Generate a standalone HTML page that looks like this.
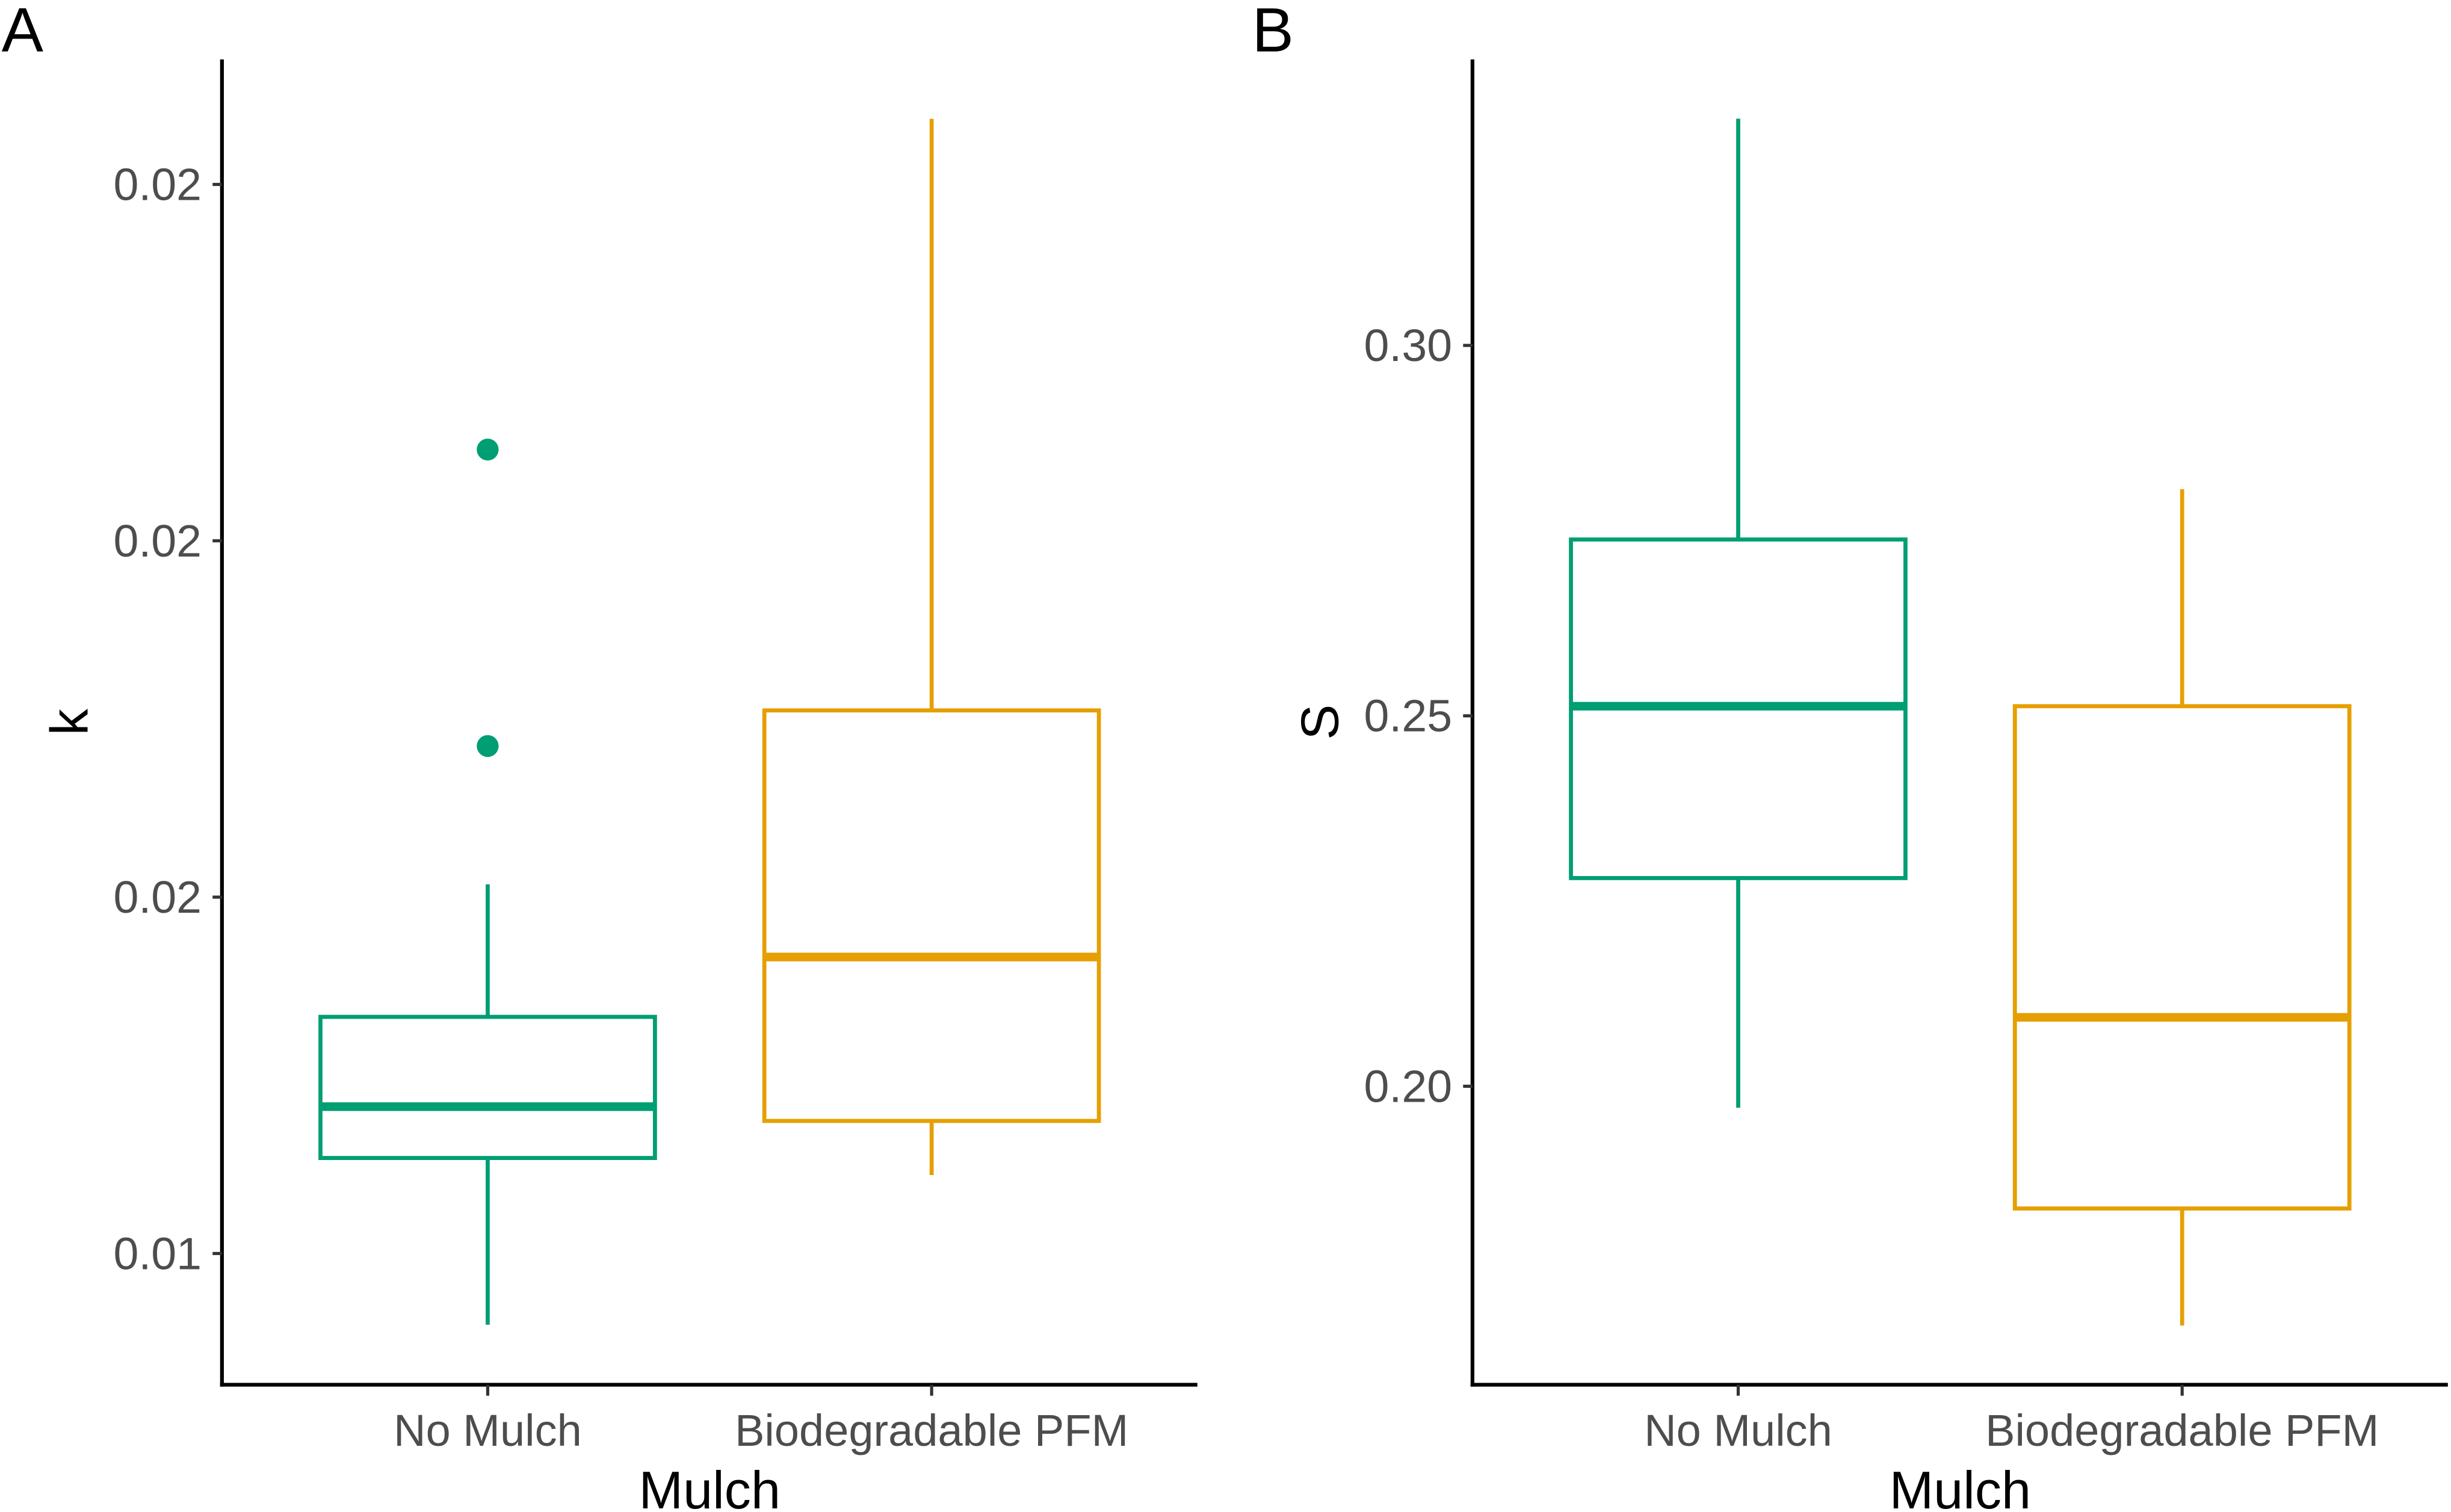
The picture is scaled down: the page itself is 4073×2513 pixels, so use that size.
<!DOCTYPE html>
<html><head><meta charset="utf-8"><style>
html,body{margin:0;padding:0;background:#fff;}
svg{display:block;}
text{font-family:"Liberation Sans",Arial,sans-serif;}
</style></head><body>
<svg id="chart" width="4073" height="2513" viewBox="0 0 1568 967.4" preserveAspectRatio="none" xmlns="http://www.w3.org/2000/svg">
<text x="1" y="33" font-size="40" fill="#000">A</text>
<text x="801" y="33" font-size="40" fill="#000">B</text>
<g id="gA"></g>
<g id="gB"></g>
</svg>
<script>
const categories = ["No Mulch", "Biodegradable PFM"];
const colors = ["#009E73", "#E69F00"];
// panel A (k): [low whisker, q1, median, q3, high whisker]
const statsA_noMulch = [0.00950, 0.01067, 0.01103, 0.01166, 0.01259];
const statsA_pfm = [0.01055, 0.01093, 0.01208, 0.01381, 0.01796];
const outliersA_noMulch = [0.01356, 0.01564];
const outliersA_pfm = [];
const ticksA = [0.01, 0.0125, 0.015, 0.0175];
const tickLabelsA = ["0.01", "0.02", "0.02", "0.02"];
// panel B (S)
const statsB_noMulch = [0.1971, 0.2281, 0.2513, 0.2738, 0.3306];
const statsB_pfm = [0.1677, 0.1835, 0.2093, 0.2513, 0.2806];
const outliersB_noMulch = [];
const outliersB_pfm = [];
const ticksB = [0.20, 0.25, 0.30];
const tickLabelsB = ["0.20", "0.25", "0.30"];

const NS = "http://www.w3.org/2000/svg";
function mk(parent, tag, attrs, name) {
  const el = document.createElementNS(NS, tag);
  for (const k in attrs) el.setAttribute(k, attrs[k]);
  
  
  parent.appendChild(el);
  return el;
}

function panel(g, ax, yscale, stats, outs, ticks, tickLabels, ytitle) {
  const left = ax, right = ax + 624, top = 38, bottom = 886;
  const xPos = i => ax + 170 + i * 284;
  mk(g, 'line', {x1: left, y1: top, x2: left, y2: bottom + 1.2, stroke: '#000', 'stroke-width': 2.4}, 'y-axis-line');
  mk(g, 'line', {x1: left - 1.2, y1: bottom, x2: right, y2: bottom, stroke: '#000', 'stroke-width': 2.4}, 'x-axis-line');
  ticks.forEach((t, i) => {
    const y = yscale(t);
    mk(g, 'line', {x1: left - 6, y1: y, x2: left, y2: y, stroke: '#333', 'stroke-width': 2}, 'y-tick');
    const tx = mk(g, 'text', {x: left - 13, y: y + 10, 'font-size': 29, fill: '#4d4d4d', 'text-anchor': 'end'}, 'y-tick-label');
    tx.textContent = tickLabels[i];
  });
  categories.forEach((c, i) => {
    const x = xPos(i);
    mk(g, 'line', {x1: x, y1: bottom, x2: x, y2: bottom + 7, stroke: '#333', 'stroke-width': 2}, 'x-tick');
    const tx = mk(g, 'text', {x: x, y: bottom + 39, 'font-size': 28.5, fill: '#4d4d4d', 'text-anchor': 'middle'}, 'x-tick-label');
    tx.textContent = c;
    const s = stats[i], col = colors[i];
    const hw = 107;
    mk(g, 'line', {x1: x, y1: yscale(s[0]), x2: x, y2: yscale(s[1]), stroke: col, 'stroke-width': 2.6}, 'lower-whisker');
    mk(g, 'line', {x1: x, y1: yscale(s[3]), x2: x, y2: yscale(s[4]), stroke: col, 'stroke-width': 2.6}, 'upper-whisker');
    mk(g, 'rect', {x: x - hw, y: yscale(s[3]), width: 2 * hw, height: yscale(s[1]) - yscale(s[3]), fill: 'none', stroke: col, 'stroke-width': 2.6}, 'box');
    mk(g, 'line', {x1: x - hw, y1: yscale(s[2]), x2: x + hw, y2: yscale(s[2]), stroke: col, 'stroke-width': 5.5}, 'median-line');
    outs[i].forEach(o => {
      mk(g, 'circle', {cx: x, cy: yscale(o), r: 7, fill: col}, 'outlier-point');
    });
  });
  const t = mk(g, 'text', {x: (left + right) / 2, y: 965, 'font-size': 34, fill: '#000', 'text-anchor': 'middle'}, 'x-axis-title');
  t.textContent = 'Mulch';
  const yx = ax - 86, yy = 462;
  const yt = mk(g, 'text', {x: yx, y: yy, 'font-size': 34, fill: '#000', 'text-anchor': 'middle', transform: 'rotate(-90 ' + yx + ' ' + yy + ')'}, 'y-axis-title');
  yt.textContent = ytitle;
}

const yA = v => 802 - (v - 0.01) / 0.0025 * 228;
const yB = v => 695 - (v - 0.20) / 0.05 * 237;
panel(document.getElementById('gA'), 142, yA, [statsA_noMulch, statsA_pfm], [outliersA_noMulch, outliersA_pfm], ticksA, tickLabelsA, 'k');
panel(document.getElementById('gB'), 942, yB, [statsB_noMulch, statsB_pfm], [outliersB_noMulch, outliersB_pfm], ticksB, tickLabelsB, 'S');
</script>
</body></html>
